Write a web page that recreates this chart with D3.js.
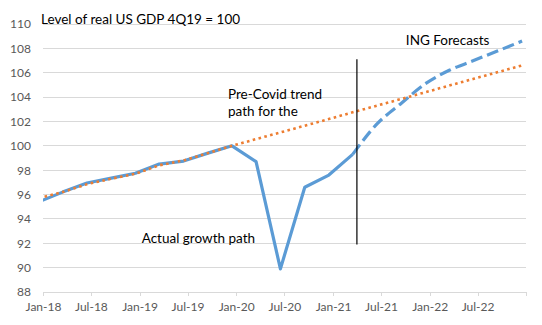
<!DOCTYPE html>
<html>
<head>
<meta charset="utf-8">
<script src="https://cdn.jsdelivr.net/npm/d3@7"></script>
<style>
  html, body { margin: 0; padding: 0; background: #fff; }
  svg { display: block; }
  text { font-family: Lato, "Liberation Sans", sans-serif; }
</style>
</head>
<body>
<div id="chart"></div>
<script>
// ---- Data ----
const quarterDates = ["2017-12","2018-03","2018-06","2018-09","2018-12","2019-03","2019-06","2019-09",
  "2019-12","2020-03","2020-06","2020-09","2020-12","2021-03","2021-06","2021-09","2021-12",
  "2022-03","2022-06","2022-09","2022-12"];
const actualGDP = [95.4, 96.2, 96.95, 97.35, 97.75, 98.5, 98.75, 99.4, 100, 98.7, 89.9, 96.6, 97.6, 99.3];
const forecastStart = "2021-03";
const ingForecast = [99.3, 101.8, 103.5, 105.1, 106.2, 107.0, 107.8, 108.6];
const preCovidTrend = [95.7, 96.2, 96.85, 97.3, 97.7, 98.4, 98.8, 99.4, 100, 100.55, 101.1, 101.65,
  102.2, 102.75, 103.3, 103.85, 104.4, 104.95, 105.5, 106.05, 106.6];
const yTicks = [88, 90, 92, 94, 96, 98, 100, 102, 104, 106, 108, 110];
const xTickDates = ["2018-01","2018-07","2019-01","2019-07","2020-01","2020-07","2021-01","2021-07","2022-01","2022-07","2023-01"];
const xTickLabels = ["Jan-18","Jul-18","Jan-19","Jul-19","Jan-20","Jul-20","Jan-21","Jul-21","Jan-22","Jul-22",""];
const dividerDate = "2021-04-01";
const dividerRange = [91.9, 107.1];
const titleText = "Level of real US GDP 4Q19 = 100";
const annotations = [
  { lines: ["Pre-Covid trend", "path for the"], date: "2019-12-01", value: 103.85 },
  { lines: ["ING Forecasts"], date: "2021-10-03", value: 108.3 },
  { lines: ["Actual growth path"], date: "2019-01-09", value: 92.0 }
];

// ---- Setup ----
const W = 542, H = 325;
const margin = { left: 43, right: 542 - 526.3, top: 24, bottom: 325 - 292 };
const svg = d3.select("#chart").append("svg").attr("width", W).attr("height", H);

const parseMonth = d3.timeParse("%Y-%m");
const midMonth = s => { const d = parseMonth(s); return new Date(d.getFullYear(), d.getMonth(), 16); };
const parseDay = d3.timeParse("%Y-%m-%d");

const x = d3.scaleTime()
  .domain([parseMonth("2018-01"), parseMonth("2023-01")])
  .range([margin.left, W - margin.right]);
const y = d3.scaleLinear().domain([88, 110]).range([H - margin.bottom, margin.top]);

// gridlines
svg.append("g").selectAll("line").data(yTicks.filter(v => v > 88)).join("line")
  .attr("x1", x.range()[0]).attr("x2", x.range()[1])
  .attr("y1", d => y(d)).attr("y2", d => y(d))
  .attr("stroke", "#d9d9d9").attr("stroke-width", 1).attr("shape-rendering", "crispEdges");

// y axis labels
const yAxis = d3.axisLeft(y).tickValues(yTicks).tickSize(0).tickPadding(12);
const gy = svg.append("g").attr("transform", `translate(${margin.left},0)`).call(yAxis);
gy.select(".domain").remove();
gy.selectAll("text").attr("fill", "#595959").style("font-size", "12px").style("font-family", "Lato, sans-serif");

// x axis
const xAxis = d3.axisBottom(x).tickValues(xTickDates.map(parseMonth))
  .tickFormat((d, i) => xTickLabels[i]).tickSize(4).tickSizeOuter(0).tickPadding(6);
const gx = svg.append("g").attr("transform", `translate(0,${y(88)})`).call(xAxis);
gx.select(".domain").attr("stroke", "#d9d9d9").attr("shape-rendering", "crispEdges");
gx.selectAll(".tick line").attr("stroke", "#d9d9d9").attr("shape-rendering", "crispEdges");
gx.selectAll("text").attr("fill", "#595959").style("font-size", "12px").style("font-family", "Lato, sans-serif");

// clip
svg.append("clipPath").attr("id", "plot").append("rect")
  .attr("x", x.range()[0]).attr("y", 0)
  .attr("width", x.range()[1] - x.range()[0] + 6).attr("height", H);

const plot = svg.append("g").attr("clip-path", "url(#plot)");

const trendData = quarterDates.map((d, i) => ({ date: midMonth(d), v: preCovidTrend[i] }));
const actualData = actualGDP.map((v, i) => ({ date: midMonth(quarterDates[i]), v }));
const fStart = quarterDates.indexOf(forecastStart);
const forecastData = ingForecast.map((v, i) => ({ date: midMonth(quarterDates[fStart + i]), v }));

const lineStraight = d3.line().x(d => x(d.date)).y(d => y(d.v));
const lineSmooth = d3.line().x(d => x(d.date)).y(d => y(d.v)).curve(d3.curveMonotoneX);

plot.append("path").datum(actualData).attr("d", lineStraight)
  .attr("fill", "none").attr("stroke", "#5b9bd5").attr("stroke-width", 3.2)
  .attr("stroke-linejoin", "round");

plot.append("path").datum(forecastData).attr("d", lineSmooth)
  .attr("fill", "none").attr("stroke", "#5b9bd5").attr("stroke-width", 3.2)
  .attr("stroke-dasharray", "12 5");

plot.append("path").datum(trendData).attr("d", lineStraight)
  .attr("fill", "none").attr("stroke", "#ed7d31").attr("stroke-width", 2.6)
  .attr("stroke-dasharray", "2.6 3.4");

// divider line
svg.append("line")
  .attr("x1", x(parseDay(dividerDate))).attr("x2", x(parseDay(dividerDate)))
  .attr("y1", y(dividerRange[0])).attr("y2", y(dividerRange[1]))
  .attr("stroke", "#000").attr("stroke-width", 1.2);

// title
svg.append("text").attr("x", x(parseMonth("2018-01")) - 2).attr("y", y(110) - 3)
  .attr("dominant-baseline", "middle")
  .style("font-size", "13.5px").attr("fill", "#000").text(titleText);

// annotations
annotations.forEach(a => {
  const t = svg.append("text").attr("x", x(parseDay(a.date))).attr("y", y(a.value))
    .style("font-size", "13.5px").attr("fill", "#000");
  a.lines.forEach((l, i) => t.append("tspan").attr("x", x(parseDay(a.date)))
    .attr("dy", i === 0 ? 0 : 17).text(l));
});
</script>
</body>
</html>
